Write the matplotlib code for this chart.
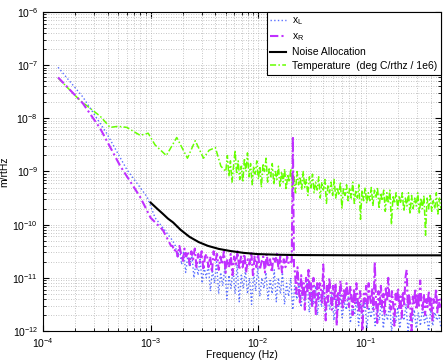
import numpy as np
import matplotlib
matplotlib.use("Agg")
import matplotlib.pyplot as plt
from matplotlib.ticker import LogLocator, NullFormatter

plt.rcParams['font.family'] = ['Liberation Sans', 'DejaVu Sans']
plt.rcParams['mathtext.default'] = 'regular'

# x_L: smooth low-frequency part (Hz, log10 m/rtHz)
xl_f = [1.38e-4, 2.35e-4, 3.9e-4, 6.0e-4, 9.3e-4, 1.1e-3, 1.35e-3, 1.6e-3]
xl_v = [-7.04, -7.6, -8.28, -8.96, -9.48, -9.87, -10.1, -10.3]
# x_L: noisy part, 1.7e-3 .. 0.5 Hz (log10 values)
xl_noise_v = [
    -10.4, -10.6, -10.45, -10.75, -10.5, -10.9, -10.6, -10.8, -10.55, -11.0,
    -10.7, -10.95, -10.65, -11.1, -10.8, -11.0, -10.75, -11.25, -10.85, -11.1,
    -10.7, -11.3, -10.9, -11.15, -10.8, -11.4, -10.95, -11.2, -10.85, -11.3,
    -10.75, -11.45, -10.95, -11.2, -10.85, -11.3, -11.0, -11.5, -10.9, -11.25,
    -10.8, -11.35, -11.0, -11.2, -10.9, -11.4, -11.05, -11.3, -10.85, -11.45,
    -11.0, -11.3, -10.9, -11.5, -11.1, -11.35, -11.0, -11.6, -11.15, -11.4,
    -11.1, -11.55, -11.2, -11.45, -11.05, -11.65, -11.25, -11.5, -11.15, -11.7,
    -11.3, -11.55, -11.2, -11.75, -11.35, -11.6, -11.25, -11.8, -11.4, -11.6,
    -11.3, -11.75, -11.45, -11.6, -11.35, -11.85, -11.5, -11.7, -11.4, -11.9,
    -11.5, -11.7, -11.45, -11.95, -11.55, -11.75, -11.5, -11.9, -11.6, -11.8,
    -11.45, -11.95, -11.6, -11.8, -11.5, -12.0, -11.65, -11.85, -11.55, -11.95,
    -11.6, -11.8, -11.5, -12.0, -11.7, -11.85, -11.6, -11.95, -11.65, -11.9,
    -11.55, -11.85, -11.7, -12.0, -11.6, -11.9, -11.65, -11.8, -11.7, -11.95,
]

# x_R
xr_f = [1.38e-4, 2.35e-4, 3.4e-4, 5.2e-4, 8.0e-4, 1.0e-3, 1.3e-3, 1.55e-3]
xr_v = [-7.23, -7.72, -8.19, -8.89, -9.48, -9.87, -10.1, -10.4]
# 1.6e-3 .. 0.02 Hz
xr_noise1_v = [
    -10.4, -10.5, -10.45, -10.6, -10.4, -10.55, -10.7, -10.45, -10.6, -10.5,
    -10.75, -10.5, -10.65, -10.45, -10.8, -10.55, -10.7, -10.5, -10.85, -10.6,
    -10.55, -10.8, -10.6, -10.9, -10.5, -10.7, -10.55, -10.85, -10.6, -10.75,
    -10.5, -10.9, -10.65, -10.8, -10.55, -10.95, -10.6, -10.75, -10.5, -10.85,
    -10.6, -10.8, -10.55, -10.9, -10.65, -10.75, -10.5, -10.95, -10.6, -10.8,
    -10.55, -10.85, -10.7, -10.6, -10.9, -10.55, -10.8, -10.65, -10.9, -10.6,
    -10.7, -10.55, -10.85, -10.6, -10.9, -10.65, -10.8, -10.6, -10.75, -10.7,
]
# line at 0.021 Hz
xr_spike_f = [0.0205, 0.021, 0.0215]
xr_spike_v = [-10.7, -8.34, -10.8]
# 0.022 .. 0.5 Hz
xr_noise2_v = [
    -10.9, -11.3, -10.8, -11.2, -11.5, -10.95, -11.35, -11.1, -11.6, -11.0,
    -11.25, -10.85, -11.4, -11.1, -11.55, -11.0, -11.3, -11.7, -11.1, -11.4,
    -11.1, -11.2, -11.5, -10.75, -11.35, -11.8, -11.15, -11.45, -11.0, -11.3,
    -11.6, -11.15, -11.4, -11.1, -11.9, -11.25, -11.5, -11.05, -11.35, -11.6,
    -11.2, -11.45, -11.1, -11.3, -11.55, -11.15, -11.4, -11.7, -11.2, -11.5,
    -11.1, -11.4, -11.65, -11.25, -11.5, -12.0, -11.3, -11.45, -11.15, -11.6,
    -11.1, -11.35, -11.5, -11.2, -11.6, -10.7, -11.45, -11.85, -11.25, -11.5,
    -11.15, -11.55, -11.3, -11.7, -11.2, -11.45, -11.0, -11.4, -11.6, -11.25,
    -11.5, -11.9, -11.3, -11.45, -11.2, -11.6, -11.35, -11.75, -11.25, -11.5,
    -11.0, -10.85, -11.6, -11.3, -11.55, -12.0, -11.35, -11.5, -11.2, -11.6,
    -11.3, -11.55, -11.05, -11.45, -11.6, -11.3, -11.7, -11.4, -11.55, -11.25,
    -11.6, -11.35, -11.8, -11.4, -11.5, -11.2, -11.65, -11.4, -11.55, -11.35,
]

# Noise allocation (Hz, m/rtHz)
na_f = [1.0e-3, 1.15e-3, 1.3e-3, 1.45e-3, 1.62e-3, 1.9e-3, 2.3e-3, 2.8e-3, 3.4e-3,
        4.3e-3, 5.5e-3, 7.3e-3, 9.8e-3, 1.5e-2, 2.4e-2, 0.1, 0.5]
na_v = [2.6e-10, 2.0e-10, 1.6e-10, 1.3e-10, 1.1e-10, 8.0e-11, 5.9e-11, 4.7e-11, 4.0e-11,
        3.5e-11, 3.2e-11, 2.95e-11, 2.8e-11, 2.72e-11, 2.68e-11, 2.65e-11, 2.65e-11]

# Temperature (deg C/rthz / 1e6)
tp_f = [1.38e-4, 2.2e-4, 3.4e-4, 4.2e-4, 5.0e-4, 6.0e-4, 7.0e-4, 8.0e-4, 9.5e-4, 1.1e-3,
        1.4e-3, 1.75e-3, 2.2e-3, 2.6e-3, 3.1e-3, 3.5e-3, 4.0e-3, 4.5e-3]
tp_v = [-7.24, -7.66, -7.96, -8.17, -8.15, -8.17, -8.25, -8.32, -8.28, -8.5,
        -8.7, -8.36, -8.75, -8.42, -8.75, -8.6, -8.55, -8.9]
# 5e-3 .. 0.5 Hz
tp_noise_v = [
    -9.0, -8.7, -9.1, -8.8, -9.2, -8.9, -8.6, -9.05, -8.8, -9.15,
    -8.9, -9.2, -8.75, -9.0, -8.65, -9.1, -8.85, -9.25, -8.9, -9.05,
    -8.8, -9.15, -8.9, -9.3, -8.85, -9.0, -8.75, -9.2, -8.95, -9.1,
    -8.85, -9.25, -9.0, -9.15, -8.9, -9.3, -9.0, -9.2, -8.95, -9.35,
    -9.05, -9.2, -8.95, -9.3, -9.1, -9.4, -9.0, -9.25, -9.1, -9.35,
    -9.0, -9.3, -9.15, -9.45, -9.1, -9.3, -9.05, -9.4, -9.2, -9.35,
    -9.1, -9.5, -9.2, -9.35, -9.15, -9.6, -9.25, -9.4, -9.2, -9.45,
    -9.15, -9.5, -9.3, -9.45, -9.2, -9.7, -9.3, -9.45, -9.25, -9.55,
    -9.3, -9.5, -9.2, -9.6, -9.35, -9.5, -9.25, -9.9, -9.35, -9.55,
    -9.3, -9.6, -9.4, -9.55, -9.3, -9.65, -9.35, -9.5, -9.3, -9.7,
    -9.4, -9.55, -9.35, -9.75, -9.4, -9.6, -9.35, -10.0, -9.45, -9.6,
    -9.4, -9.7, -9.45, -9.6, -9.4, -9.75, -9.5, -9.65, -9.4, -9.8,
    -9.45, -9.7, -9.5, -9.65, -9.4, -9.8, -9.5, -9.7, -9.45, -10.2,
    -9.5, -9.7, -9.45, -9.75, -9.55, -9.7, -9.4, -9.8, -9.5, -9.7,
]

# frequency bins of the noisy parts
xl_noise_f = np.geomspace(1.7e-3, 0.5, len(xl_noise_v))
xr_noise1_f = np.geomspace(1.6e-3, 0.02, len(xr_noise1_v))
xr_noise2_f = np.geomspace(0.022, 0.5, len(xr_noise2_v))
tp_noise_f = np.geomspace(5e-3, 0.5, len(tp_noise_v))

xl_F = np.concatenate([xl_f, xl_noise_f])
xl_Y = 10.0 ** np.array(xl_v + xl_noise_v)
xr_F = np.concatenate([xr_f, xr_noise1_f, xr_spike_f, xr_noise2_f])
xr_Y = 10.0 ** np.array(xr_v + xr_noise1_v + xr_spike_v + xr_noise2_v)
tp_F = np.concatenate([tp_f, tp_noise_f])
tp_Y = 10.0 ** np.array(tp_v + tp_noise_v)

fig = plt.figure(figsize=(4.45, 3.62), dpi=100)
ax = fig.add_axes([43 / 445, 31 / 362, 398 / 445, 319 / 362])

h_tp, = ax.loglog(tp_F, tp_Y, color='#66ff00', lw=1.1, zorder=2, dashes=(4, 1.5, 1, 1.5),
                  label='Temperature  (deg C/rthz / 1e6)')
h_xl, = ax.loglog(xl_F, xl_Y, ':', color='#5a6fff', lw=1.0, zorder=3, label='$x_L$')
h_xr, = ax.loglog(xr_F, xr_Y, color='#c030ff', lw=1.5, zorder=4, dashes=(4, 1.5, 1, 1.5),
                  label='$x_R$')
h_na, = ax.loglog(na_f, na_v, '-', color='black', lw=1.5, zorder=5, label='Noise Allocation')

ax.set_xlim(1e-4, 0.5)
ax.set_ylim(1e-12, 1e-6)
ax.xaxis.set_major_locator(LogLocator(base=10, numticks=10))
ax.yaxis.set_major_locator(LogLocator(base=10, numticks=10))
ax.xaxis.set_minor_locator(LogLocator(base=10, subs=np.arange(2, 10), numticks=20))
ax.yaxis.set_minor_locator(LogLocator(base=10, subs=np.arange(2, 10), numticks=20))
ax.xaxis.set_minor_formatter(NullFormatter())
ax.yaxis.set_minor_formatter(NullFormatter())
ax.grid(True, which='both', linestyle=(0, (1, 2)), color='0.7', lw=0.6)
ax.tick_params(which='both', direction='in', top=True, right=True, labelsize=7.5)
ax.tick_params(which='major', length=4)
ax.tick_params(which='minor', length=2)
for s in ax.spines.values():
    s.set_linewidth(0.8)

ax.set_xlabel('Frequency (Hz)', fontsize=7.5, labelpad=0)
ax.set_ylabel('m/rtHz', fontsize=7.5, labelpad=2)

leg = ax.legend(handles=[h_xl, h_xr, h_na, h_tp], loc='upper right', fontsize=7.5,
                fancybox=False, framealpha=1, edgecolor='black', borderaxespad=0,
                handlelength=1.5, handletextpad=0.6, borderpad=0.35, labelspacing=0.38)
leg.get_frame().set_linewidth(0.8)

fig.savefig('out.png', dpi=100)
